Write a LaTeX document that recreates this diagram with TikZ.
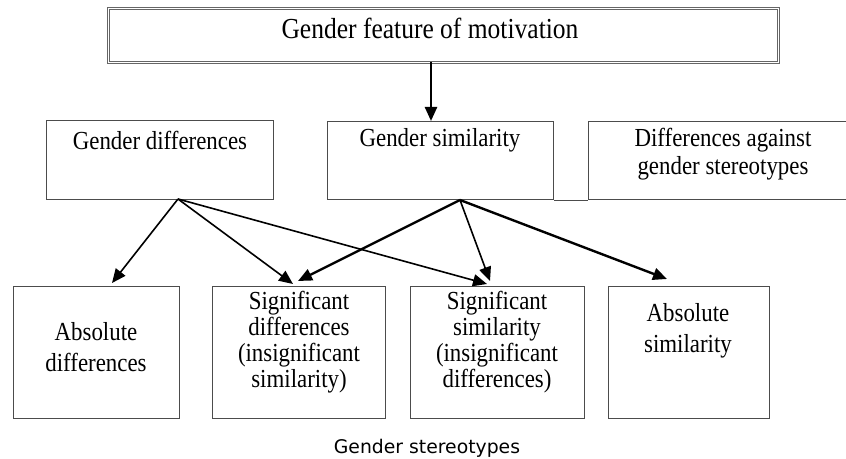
\documentclass[tikz,border=0pt]{standalone}
\usepackage{fontspec}
\setmainfont{Liberation Serif}[FakeStretch=0.88]
\newfontfamily\capfont{DejaVu Sans}
\usetikzlibrary{arrows.meta,positioning}

\tikzset{
  box/.style={draw=black!70, line width=0.65pt, anchor=north west, inner sep=0pt},
  boxtext/.style={align=center, inner sep=0pt, font=\fontsize{13}{15.5}\selectfont},
  link/.style={-{Triangle[length=7pt,width=6pt]}, line width=0.8pt},
  boldlink/.style={link, line width=1.2pt},
}

\begin{document}
\begin{tikzpicture}[x=0.5pt,y=-0.5pt]
\useasboundingbox (0,0) rectangle (846,459);

% top level
\node[box, double, double distance=0.7pt, draw=black!60, line width=0.5pt,
      minimum width=335pt, minimum height=27pt] (gfm) at (108,8) {};
\node[boxtext, font=\fontsize{14.5}{16}\selectfont] (gfmtext) at (430,28) {Gender feature of motivation};

% middle level
\node[box, minimum width=113.5pt, minimum height=39.5pt] (gd) at (46,120) {};
\node[boxtext] (gdtext) at (160,140) {Gender differences};
\node[box, minimum width=113pt, minimum height=39pt] (gs) at (327,121) {};
\node[boxtext] (gstext) at (440,140) {Gender similarity};
\node[box, minimum width=130pt, minimum height=39pt] (ga) at (588,121) {};
\node[boxtext, font=\fontsize{13}{14}\selectfont] (gatext) at (723,154) {Differences against\\gender stereotypes};
\draw[draw=black!70, line width=0.65pt] (gs.south east) -- (ga.south west);

% bottom level
\node[box, minimum width=83pt, minimum height=66pt] (ad) at (13,286) {};
\node[boxtext] (adtext) at (96,347) {Absolute\\differences};
\node[box, minimum width=86.5pt, minimum height=66pt] (sd) at (212,286) {};
\node[boxtext, font=\fontsize{13}{13}\selectfont] (sdtext) at (299,342) {Significant\\differences\\(insignificant\\similarity)};
\node[box, minimum width=87pt, minimum height=66pt] (ss) at (410,286) {};
\node[boxtext, font=\fontsize{13}{13}\selectfont] (sstext) at (497,342) {Significant\\similarity\\(insignificant\\differences)};
\node[box, minimum width=80.5pt, minimum height=66pt] (as) at (608,286) {};
\node[boxtext] (astext) at (688,331) {Absolute\\similarity};

\node[font=\capfont\fontsize{9.4}{11}\selectfont] (caption) at (427,448) {Gender stereotypes};

% connectors
\coordinate (gfmout) at (431,62);
\draw[boldlink] (gfmout) -- (gfmout |- gs.north);

\coordinate (gdout) at (178,199);
\coordinate (gsout) at (460,200);
\coordinate (adin) at (112,283);
\coordinate (sdin1) at (293,284);
\coordinate (sdin2) at (298,281);
\coordinate (ssin1) at (487,284);
\coordinate (ssin2) at (490,281);
\coordinate (asin) at (667,279);

\foreach \t in {adin,sdin1,ssin1}
  \draw[link] (gdout) -- (\t);
\foreach \t in {sdin2,asin}
  \draw[boldlink] (gsout) -- (\t);
\draw[link] (gsout) -- (ssin2);
\end{tikzpicture}
\end{document}
